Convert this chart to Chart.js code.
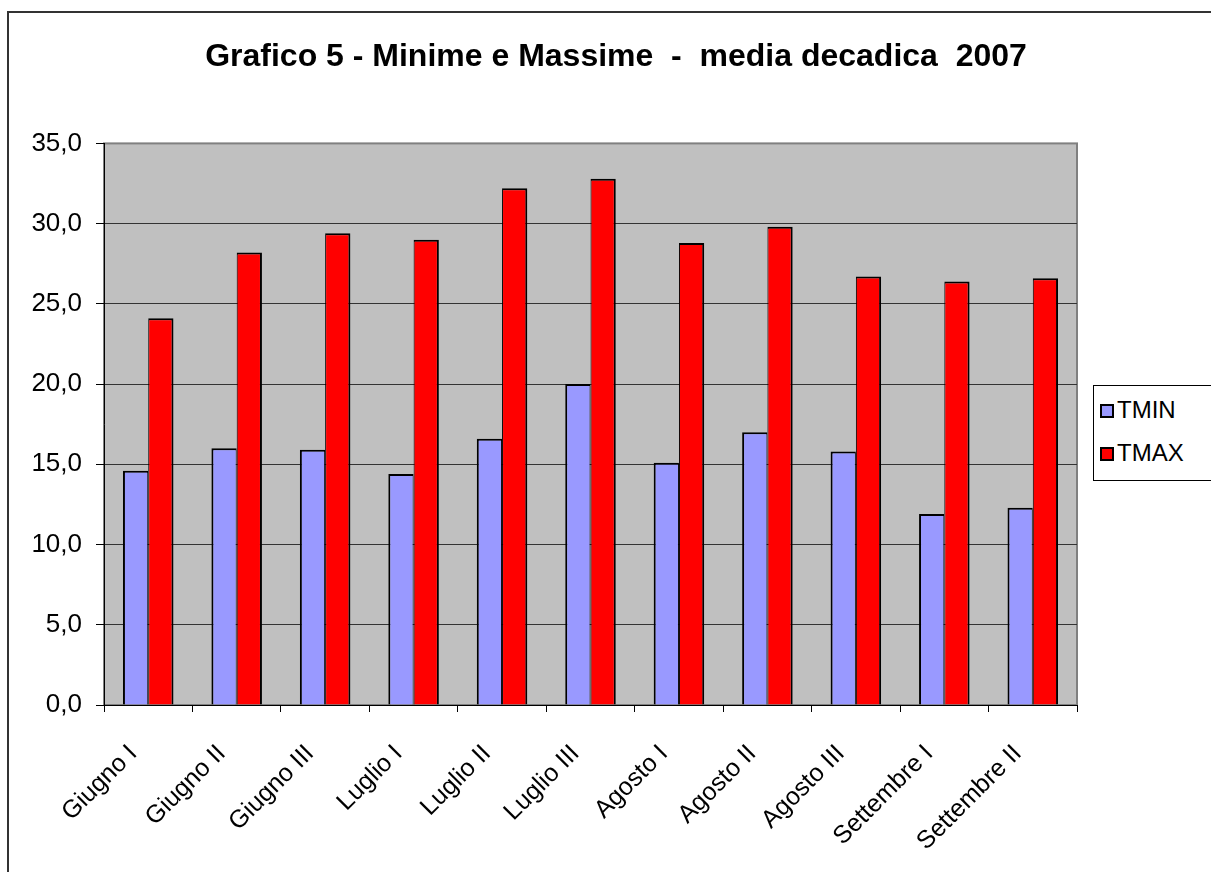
<!DOCTYPE html>
<html>
<head>
<meta charset="utf-8">
<title>Grafico 5</title>
<script src="https://cdn.jsdelivr.net/npm/chart.js@4.4.1/dist/chart.umd.min.js"></script>
<style>
    html, body { margin: 0; padding: 0; background: #fff; overflow: hidden; }
    #frame {
        position: absolute; left: 7px; top: 11px;
        width: 1300px; height: 1000px;
        border: 2px solid #333;
    }
    #chart { position: absolute; left: 0; top: 0; }
    #legend {
        position: absolute; left: 1093px; top: 385px;
        width: 130px; height: 94px;
        border: 1px solid #000; background: #fff;
        font-family: Arial, "Liberation Sans", sans-serif; font-size: 24px;
    }
    #legend .item { position: absolute; left: 6px; height: 26px; line-height: 26px; white-space: nowrap; }
    #legend .swatch {
        display: inline-block; width: 10px; height: 10px;
        border: 2px solid #000; vertical-align: 0px; margin-right: 3px;
    }
</style>
</head>
<body>
<div id="frame"></div>
<canvas id="chart" width="1232" height="872"></canvas>
<div id="legend"></div>
<script>
// Dati decadali 2007
const categories = ['Giugno I', 'Giugno II', 'Giugno III', 'Luglio I', 'Luglio II', 'Luglio III',
    'Agosto I', 'Agosto II', 'Agosto III', 'Settembre I', 'Settembre II'];
const tmin = [14.6, 16.0, 15.9, 14.4, 16.6, 20.0, 15.1, 17.0, 15.8, 11.9, 12.3];
const tmax = [24.1, 28.2, 29.4, 29.0, 32.2, 32.8, 28.8, 29.8, 26.7, 26.4, 26.6];
const yTickLabels = ['0,0', '5,0', '10,0', '15,0', '20,0', '25,0', '30,0', '35,0'];

const FONT = 'Arial, "Liberation Sans", sans-serif';
Chart.defaults.font.family = FONT;
Chart.defaults.color = '#000';

// grey plot background with a grey frame on top/right
const plotBackground = {
    id: 'plotBackground',
    beforeDraw(chart) {
        const { ctx, chartArea: a } = chart;
        ctx.save();
        ctx.fillStyle = '#c0c0c0';
        ctx.fillRect(a.left, a.top, a.right - a.left, a.bottom - a.top);
        ctx.strokeStyle = '#808080';
        ctx.lineWidth = 2;
        ctx.strokeRect(a.left, a.top, a.right - a.left, a.bottom - a.top);
        ctx.restore();
    }
};

const ctx = document.getElementById('chart').getContext('2d');
const chart = new Chart(ctx, {
    type: 'bar',
    data: {
        labels: categories,
        datasets: [{
            label: 'TMIN',
            data: tmin,
            backgroundColor: '#9999ff',
            borderColor: '#000',
            borderWidth: { top: 2, left: 2, right: 1, bottom: 0 },
            borderSkipped: false
        }, {
            label: 'TMAX',
            data: tmax,
            backgroundColor: '#ff0000',
            borderColor: '#000',
            borderWidth: { top: 2, left: 1, right: 2, bottom: 0 },
            borderSkipped: false
        }]
    },
    options: {
        responsive: false,
        animation: false,
        layout: { padding: 0 },
        datasets: {
            bar: { categoryPercentage: 2 / 3.5, barPercentage: 1.0 }
        },
        plugins: {
            legend: { display: false },
            tooltip: { enabled: false },
            title: {
                display: true,
                text: 'Grafico 5 - Minime e Massime  -  media decadica  2007',
                color: '#000',
                font: { size: 32, weight: 'bold', family: FONT },
                padding: { top: 38, bottom: 67 }
            }
        },
        scales: {
            x: {
                grid: {
                    offset: true,
                    drawOnChartArea: false,
                    drawTicks: true,
                    tickLength: 7,
                    tickColor: '#000'
                },
                border: { color: '#000', width: 1 },
                ticks: {
                    autoSkip: false,
                    minRotation: 45,
                    maxRotation: 45,
                    labelOffset: -15,
                    padding: 27,
                    color: '#000',
                    font: { size: 25 }
                },
                afterFit(scale) { scale.height = 167; }
            },
            y: {
                min: 0,
                max: 35,
                ticks: {
                    stepSize: 5,
                    padding: 14,
                    color: '#000',
                    font: { size: 26 },
                    callback: (value, index) => yTickLabels[index]
                },
                grid: {
                    color: c => (c.tick && c.tick.value === 35) ? 'rgba(0,0,0,0)' : '#333',
                    lineWidth: 1,
                    tickLength: 8,
                    tickColor: '#000'
                },
                border: { color: '#000', width: 1 },
                afterFit(scale) { scale.width = 104; }
            },
            // empty right-hand column that holds the legend area
            side: {
                position: 'right',
                display: true,
                ticks: { display: false },
                grid: { display: false },
                border: { display: false },
                afterFit(scale) { scale.width = 155; }
            }
        }
    },
    plugins: [plotBackground]
});

// legend box built from the datasets
const legendBox = document.getElementById('legend');
chart.data.datasets.forEach((ds, i) => {
    const item = document.createElement('div');
    item.className = 'item';
    item.style.top = (11 + i * 43) + 'px';
    item.innerHTML = `<span class="swatch" style="background:${ds.backgroundColor}"></span>${ds.label}`;
    legendBox.appendChild(item);
});
</script>
</body>
</html>
